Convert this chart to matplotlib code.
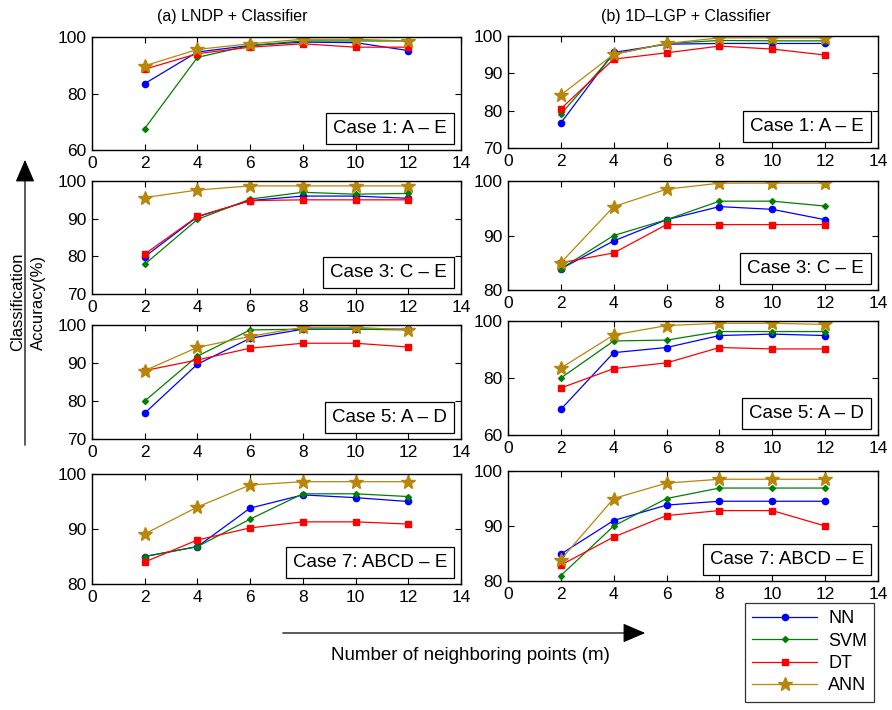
"""
LNDP / 1D-LGP + classifier accuracy vs number of neighboring points
"""

import matplotlib
matplotlib.use("Agg")
import matplotlib.pyplot as plt

plt.rcParams["font.family"] = ["Liberation Sans", "DejaVu Sans"]

m = [2, 4, 6, 8, 10, 12]
classifiers = ["NN", "SVM", "DT", "ANN"]

# (a) LNDP + Classifier
a1_nn = [83.5, 94.7, 97.0, 98.2, 98.0, 95.2]
a1_svm = [67.6, 92.8, 97.0, 98.6, 98.6, 98.6]
a1_dt = [88.6, 94.1, 96.4, 97.6, 96.4, 96.4]
a1_ann = [89.8, 95.6, 97.6, 99.2, 99.2, 98.6]

a3_nn = [79.9, 90.5, 94.8, 96.0, 96.0, 95.4]
a3_svm = [77.9, 89.8, 95.2, 97.0, 96.5, 96.7]
a3_dt = [80.6, 90.6, 94.8, 95.0, 95.0, 95.0]
a3_ann = [95.6, 97.6, 98.7, 98.7, 98.7, 98.7]

a5_nn = [76.8, 89.7, 96.5, 98.9, 98.9, 98.9]
a5_svm = [80.0, 91.8, 98.7, 98.9, 98.9, 98.7]
a5_dt = [88.0, 90.8, 93.9, 95.2, 95.2, 94.2]
a5_ann = [88.0, 94.1, 97.0, 99.4, 99.4, 98.7]

a7_nn = [85.0, 86.8, 93.8, 96.2, 95.7, 95.0]
a7_svm = [85.0, 86.8, 91.8, 96.4, 96.4, 95.9]
a7_dt = [84.0, 88.0, 90.2, 91.3, 91.3, 90.9]
a7_ann = [89.1, 94.0, 98.0, 98.6, 98.6, 98.6]

# (b) 1D-LGP + Classifier
b1_nn = [76.7, 95.6, 97.8, 98.0, 98.0, 98.0]
b1_svm = [79.1, 95.1, 98.0, 98.8, 98.7, 98.7]
b1_dt = [80.5, 93.8, 95.5, 97.3, 96.5, 94.9]
b1_ann = [84.2, 95.1, 98.0, 99.5, 99.5, 99.5]

b3_nn = [83.9, 89.0, 92.9, 95.3, 94.8, 92.9]
b3_svm = [83.9, 90.0, 92.9, 96.3, 96.3, 95.4]
b3_dt = [85.0, 86.8, 92.0, 92.0, 92.0, 92.0]
b3_ann = [85.0, 95.3, 98.5, 99.6, 99.6, 99.6]

b5_nn = [69.0, 88.9, 90.7, 94.9, 95.4, 94.9]
b5_svm = [80.0, 93.0, 93.3, 96.3, 96.3, 96.3]
b5_dt = [76.5, 83.3, 85.3, 90.7, 90.2, 90.2]
b5_ann = [83.5, 95.1, 98.4, 99.2, 99.2, 98.8]

b7_nn = [84.9, 91.0, 93.8, 94.5, 94.5, 94.5]
b7_svm = [81.0, 90.0, 95.0, 96.9, 96.9, 96.9]
b7_dt = [82.9, 88.0, 91.9, 92.8, 92.8, 90.0]
b7_ann = [83.9, 95.0, 97.8, 98.5, 98.5, 98.5]

case_labels = ["Case 1: A \u2013 E", "Case 3: C \u2013 E",
               "Case 5: A \u2013 D", "Case 7: ABCD \u2013 E"]

left_ylims = [(60, 100, [60, 80, 100]), (70, 100, [70, 80, 90, 100]),
              (70, 100, [70, 80, 90, 100]), (80, 100, [80, 90, 100])]
right_ylims = [(70, 100, [70, 80, 90, 100]), (80, 100, [80, 90, 100]),
               (60, 100, [60, 80, 100]), (80, 100, [80, 90, 100])]

styles = {
    "NN": dict(color="#0000ff", marker="o", markersize=4.5),
    "SVM": dict(color="#008000", marker="D", markersize=3),
    "DT": dict(color="#ff0000", marker="s", markersize=4.5),
    "ANN": dict(color="#b8860b", marker="*", markersize=10),
}

W, H = 892, 710
fig = plt.figure(figsize=(W / 100, H / 100), dpi=100)

# pixel boxes (left, top, right, bottom)
left_boxes = [(92, 37, 461, 150), (92, 181, 461, 294),
              (92, 325, 461, 439), (92, 474, 461, 584)]
right_boxes = [(508, 36, 878, 148), (508, 181, 878, 290),
               (508, 321, 878, 435), (508, 471, 878, 581)]


def px_axes(box):
    l, t, r, b = box
    return fig.add_axes([l / W, 1 - b / H, (r - l) / W, (b - t) / H])


left_data = [
    (a1_nn, a1_svm, a1_dt, a1_ann),
    (a3_nn, a3_svm, a3_dt, a3_ann),
    (a5_nn, a5_svm, a5_dt, a5_ann),
    (a7_nn, a7_svm, a7_dt, a7_ann),
]
right_data = [
    (b1_nn, b1_svm, b1_dt, b1_ann),
    (b3_nn, b3_svm, b3_dt, b3_ann),
    (b5_nn, b5_svm, b5_dt, b5_ann),
    (b7_nn, b7_svm, b7_dt, b7_ann),
]

handles = []
for boxes, data, ylims in [(left_boxes, left_data, left_ylims),
                           (right_boxes, right_data, right_ylims)]:
    for i in range(4):
        ax = px_axes(boxes[i])
        hs = []
        for name, vals in zip(classifiers, data[i]):
            st = styles[name]
            h, = ax.plot(m, vals, color=st["color"], marker=st["marker"],
                         markersize=st["markersize"], linewidth=0.9,
                         markeredgecolor=st["color"], label=name)
            hs.append(h)
        handles = hs
        lo, hi, ticks = ylims[i]
        ax.set_xlim(0, 14)
        ax.set_ylim(lo, hi)
        ax.set_xticks(range(0, 15, 2))
        ax.set_yticks(ticks)
        ax.tick_params(direction="in", top=True, right=True, labelsize=12.5,
                       length=4, width=0.8, pad=4)
        for s in ax.spines.values():
            s.set_linewidth(1.0)
        # case label box in the lower right corner
        ax.annotate(case_labels[i], xy=(1, 0), xycoords="axes fraction",
                    xytext=(-14, 13), textcoords="offset pixels",
                    ha="right", va="bottom", fontsize=13.5,
                    bbox=dict(boxstyle="square,pad=0.38", fc="white",
                              ec="black", lw=0.9))

# panel titles
fig.text(232 / W, 1 - 16 / H, "(a) LNDP + Classifier",
         ha="center", va="center", fontsize=11.5)
fig.text(686 / W, 1 - 16 / H, "(b) 1D\u2013LGP + Classifier",
         ha="center", va="center", fontsize=11.5)

# y axis label with arrow
fig.add_artist(matplotlib.patches.FancyArrowPatch(
    (25 / W, 1 - 448 / H), (25 / W, 1 - 157 / H),
    transform=fig.transFigure, arrowstyle="-|>,head_length=7,head_width=3",
    mutation_scale=2, color="black", lw=0.9))
fig.text(18 / W, 1 - 302 / H, "Classification", rotation=90,
         ha="center", va="center", fontsize=12)
fig.text(38 / W, 1 - 302 / H, "Accuracy(%)", rotation=90,
         ha="center", va="center", fontsize=12)

# x axis label with arrow
fig.add_artist(matplotlib.patches.FancyArrowPatch(
    (280 / W, 1 - 633 / H), (648 / W, 1 - 633 / H),
    transform=fig.transFigure, arrowstyle="-|>,head_length=7,head_width=3",
    mutation_scale=2, color="black", lw=0.9))
fig.text(470 / W, 1 - 655 / H, "Number of neighboring points (m)",
         ha="center", va="center", fontsize=13.5)

# legend
leg = fig.legend(handles=handles, labels=classifiers,
                 loc="upper left", bbox_to_anchor=(745 / W, 1 - 603 / H),
                 fontsize=13, frameon=True, fancybox=False, edgecolor="black",
                 handlelength=3.6, labelspacing=0.3, borderpad=0.4,
                 handletextpad=0.6, borderaxespad=0)
leg.get_frame().set_linewidth(0.9)

fig.savefig("out.png", dpi=100)
